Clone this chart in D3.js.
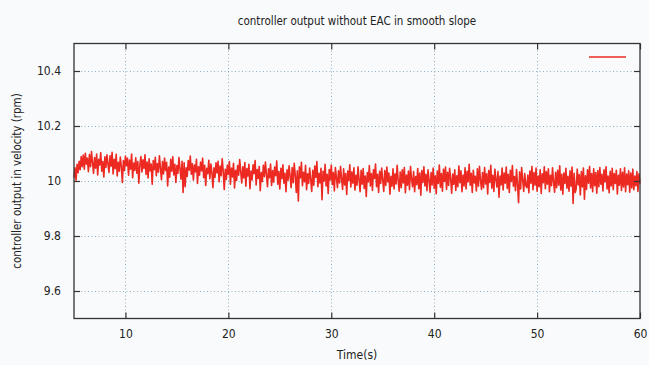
<!DOCTYPE html>
<html>
<head>
<meta charset="utf-8">
<script src="https://cdn.jsdelivr.net/npm/d3@7"></script>
<style>
  html, body { margin: 0; padding: 0; background: #f9fafc; }
  svg { display: block; }
  text { font-family: "DejaVu Sans Condensed", "DejaVu Sans", sans-serif; fill: #222; }
</style>
</head>
<body>
<svg id="chart" width="649" height="365"></svg>
<script>
// Controller output sampled every 0.1 s from t = 5 s to t = 60 s
const tStart = 5;
const tStep = 0.1;
const output = [
  10.012, 10.048, 10.003, 10.061, 10.030, 10.072, 10.041, 10.089, 10.052, 10.094,
  10.043, 10.101, 10.061, 10.083, 10.034, 10.096, 10.052, 10.107, 10.066, 10.028,
  10.085, 10.047, 10.098, 10.022, 10.079, 10.058, 10.103, 10.036, 10.071, 10.015,
  10.088, 10.049, 10.095, 10.062, 10.031, 10.092, 10.054, 10.104, 10.026, 10.079,
  10.045, 10.097, 10.018, 10.068, 10.036, 10.087, 10.052, 9.995, 10.074, 10.038,
  10.091, 10.056, 10.083, 10.021, 10.076, 10.043, 10.098, 10.012, 10.065, 10.039,
  10.084, 10.028, 10.071, 9.992, 10.058, 10.089, 10.033, 10.077, 10.046, 10.095,
  10.024, 10.069, 10.011, 10.081, 10.037, 10.062, 9.988, 10.074, 10.041, 10.086,
  10.019, 10.063, 10.032, 10.092, 10.047, 10.005, 10.071, 10.026, 10.083, 10.038,
  10.068, 9.982, 10.051, 10.014, 10.079, 10.036, 10.088, 10.022, 10.061, 9.995,
  10.056, 10.028, 10.085, 10.043, 10.007, 10.072, 9.958, 10.066, 9.979, 10.048,
  10.017, 10.074, 10.039, 10.091, 10.025, 10.063, 10.004, 10.058, 10.033, 10.079,
  9.991, 10.052, 10.021, 10.069, 10.037, 10.083, 10.012, 10.057, 9.984, 10.046,
  10.027, 10.075, 10.008, 10.062, 10.031, 9.976, 10.048, 10.013, 10.066, 10.029,
  10.072, 9.997, 10.054, 10.019, 10.081, 10.036, 9.969, 10.043, 10.006, 10.058,
  10.024, 10.071, 9.988, 10.047, 10.015, 10.064, 9.975, 10.039, 10.002, 10.056,
  10.021, 10.078, 10.034, 9.993, 10.052, 10.011, 10.067, 9.981, 10.045, 10.018,
  10.061, 9.972, 10.036, 10.004, 10.059, 10.027, 10.074, 9.986, 10.042, 10.009,
  10.053, 9.965, 10.031, 9.998, 10.057, 10.016, 10.069, 10.023, 9.979, 10.044,
  10.012, 10.062, 9.984, 10.038, 9.996, 10.051, 10.019, 10.073, 9.988, 10.034,
  9.971, 10.046, 10.008, 10.059, 9.992, 10.028, 9.961, 10.041, 10.003, 10.055,
  10.017, 9.976, 10.049, 9.994, 10.064, 10.021, 9.958, 10.037, 9.927, 10.052,
  10.011, 10.068, 9.983, 10.032, 9.997, 10.057, 9.968, 10.026, 9.991, 10.047,
  10.006, 9.962, 10.039, 9.985, 10.054, 10.013, 10.071, 9.979, 10.028, 9.993,
  10.046, 9.932, 10.035, 9.999, 10.061, 9.982, 10.024, 9.955, 10.042, 10.004,
  10.058, 9.987, 10.031, 9.964, 10.049, 10.012, 9.976, 10.037, 9.993, 10.053,
  10.008, 9.969, 10.044, 9.986, 10.027, 9.951, 10.036, 10.001, 10.059, 9.978,
  10.033, 9.992, 10.048, 9.967, 10.021, 9.985, 10.052, 10.006, 9.961, 10.039,
  9.988, 10.045, 9.973, 10.018, 9.944, 10.031, 9.997, 10.056, 9.982, 10.027,
  9.966, 10.041, 10.009, 10.062, 9.979, 10.024, 9.958, 10.035, 9.991, 10.047,
  10.003, 9.962, 10.038, 9.984, 10.051, 9.997, 10.029, 9.952, 10.017, 9.981,
  10.044, 9.971, 10.026, 9.989, 10.057, 10.002, 9.963, 10.033, 9.976, 10.041,
  9.993, 10.049, 9.957, 10.022, 9.985, 10.036, 9.968, 10.053, 10.007, 9.979,
  10.034, 9.961, 10.016, 9.987, 10.045, 9.972, 10.029, 9.948, 10.038, 9.995,
  10.052, 9.982, 10.024, 9.965, 10.041, 10.004, 9.959, 10.031, 9.986, 10.047,
  9.973, 10.019, 9.954, 10.036, 9.991, 10.058, 9.977, 10.027, 9.963, 10.043,
  9.998, 10.051, 9.969, 10.032, 9.984, 10.046, 10.008, 9.956, 10.025, 9.988,
  10.041, 9.966, 10.019, 9.979, 10.054, 9.994, 10.037, 9.961, 10.022, 9.982,
  10.048, 9.971, 10.035, 9.997, 10.061, 9.985, 10.028, 9.958, 10.039, 9.993,
  10.017, 9.964, 10.044, 9.981, 10.053, 10.002, 9.969, 10.031, 9.976, 10.049,
  9.989, 10.026, 9.953, 10.038, 9.995, 10.057, 9.974, 10.021, 9.962, 10.043,
  10.006, 9.978, 10.034, 9.941, 10.018, 9.986, 10.047, 9.967, 10.029, 9.992,
  10.051, 9.973, 10.024, 9.958, 10.039, 9.998, 10.056, 9.981, 10.016, 9.965,
  10.042, 9.987, 9.921, 10.033, 9.971, 10.049, 10.004, 9.962, 10.027, 9.983,
  9.976, 10.022, 9.957, 10.036, 9.992, 10.053, 9.968, 10.031, 9.985, 10.047,
  9.963, 10.018, 9.979, 10.041, 9.955, 10.026, 9.994, 10.052, 9.972, 10.034,
  9.988, 10.044, 9.961, 10.021, 9.983, 10.048, 9.997, 9.959, 10.032, 9.976,
  10.039, 9.985, 10.055, 9.967, 10.024, 9.952, 10.029, 9.991, 10.046, 9.974,
  10.017, 9.963, 10.037, 9.981, 10.051, 9.918, 10.028, 9.958, 9.972, 10.043,
  9.986, 10.023, 9.949, 10.034, 9.978, 10.047, 9.934, 10.019, 9.969, 10.041,
  9.992, 10.053, 9.975, 10.027, 9.961, 10.044, 9.983, 10.031, 9.956, 10.038,
  9.979, 10.049, 9.988, 10.024, 9.964, 10.041, 9.997, 10.052, 9.971, 10.018,
  9.957, 10.035, 9.982, 10.046, 9.968, 10.027, 9.991, 10.039, 9.953, 10.021,
  9.985, 10.044, 9.966, 10.032, 9.978, 10.048, 9.961, 10.025, 9.987, 10.037,
  9.959, 10.029, 9.975, 10.043, 9.968, 10.018, 9.983, 10.034, 9.962, 10.026,
  9.991
];
const xTicks = [10, 20, 30, 40, 50, 60];
const yTicks = [9.6, 9.8, 10, 10.2, 10.4];
const titleText = "controller output without EAC in smooth slope";
const xLabel = "Time(s)";
const yLabel = "controller output in velocity (rpm)";

const series = output.map((v, i) => ({ t: tStart + i * tStep, v }));

const svg = d3.select("#chart");
const m = { left: 74, right: 640, top: 43.5, bottom: 318.5 };

const x = d3.scaleLinear().domain([5, 60]).range([m.left, m.right]);
const y = d3.scaleLinear().domain([9.5, 10.5]).range([m.bottom, m.top]);

// grid
const grid = svg.append("g").attr("stroke", "#8fb0c4").attr("stroke-width", 1)
  .attr("stroke-dasharray", "1,2.5");
grid.selectAll("line.gx").data(xTicks.filter(d => d < 60)).join("line")
  .attr("x1", d => Math.round(x(d)) + 0.5).attr("x2", d => Math.round(x(d)) + 0.5)
  .attr("y1", m.top).attr("y2", m.bottom);
grid.selectAll("line.gy").data(yTicks).join("line")
  .attr("y1", d => Math.round(y(d)) + 0.5).attr("y2", d => Math.round(y(d)) + 0.5)
  .attr("x1", m.left).attr("x2", m.right);

// data line
const line = d3.line().x(d => x(d.t)).y(d => y(d.v));
svg.append("path").datum(series)
  .attr("fill", "none").attr("stroke", "#ec2a22").attr("stroke-width", 1.6)
  .attr("stroke-linejoin", "round")
  .attr("d", line);

// axes with inward ticks on all four sides
const tk = 6;
const fmtY = d => (d === 10 ? "10" : d3.format(".1f")(d));
const axB = d3.axisBottom(x).tickValues(xTicks).tickSize(-tk).tickPadding(tk + 5);
const axT = d3.axisTop(x).tickValues(xTicks).tickSize(-tk).tickFormat("");
const axL = d3.axisLeft(y).tickValues(yTicks).tickSize(-tk).tickPadding(tk + 7).tickFormat(fmtY);
const axR = d3.axisRight(y).tickValues(yTicks).tickSize(-tk).tickFormat("");

function styleAxis(g) {
  g.select(".domain").remove();
  g.selectAll(".tick line").attr("stroke", "#333").attr("stroke-width", 1.2);
  g.selectAll(".tick text").attr("font-size", 12).attr("fill", "#222")
    .attr("font-family", "'DejaVu Sans Condensed', 'DejaVu Sans', sans-serif");
}
svg.append("g").attr("transform", `translate(0,${m.bottom})`).call(axB).call(styleAxis);
svg.append("g").attr("transform", `translate(0,${m.top})`).call(axT).call(styleAxis);
svg.append("g").attr("transform", `translate(${m.left},0)`).call(axL).call(styleAxis);
svg.append("g").attr("transform", `translate(${m.right},0)`).call(axR).call(styleAxis);

// frame
svg.append("rect").attr("x", m.left).attr("y", m.top)
  .attr("width", m.right - m.left).attr("height", m.bottom - m.top)
  .attr("fill", "none").attr("stroke", "#333").attr("stroke-width", 1.3);

// legend sample
svg.append("line").attr("x1", 589).attr("x2", 626).attr("y1", 57).attr("y2", 57)
  .attr("stroke", "#ec2a22").attr("stroke-width", 1.6);

// titles
svg.append("text").attr("x", (m.left + m.right) / 2).attr("y", 25)
  .attr("text-anchor", "middle").attr("font-size", 11.5).text(titleText);
svg.append("text").attr("x", (m.left + m.right) / 2).attr("y", 359)
  .attr("text-anchor", "middle").attr("font-size", 12).text(xLabel);
svg.append("text").attr("transform", `translate(21,${(m.top + m.bottom) / 2}) rotate(-90)`)
  .attr("text-anchor", "middle").attr("font-size", 11.5).text(yLabel);
</script>
</body>
</html>
